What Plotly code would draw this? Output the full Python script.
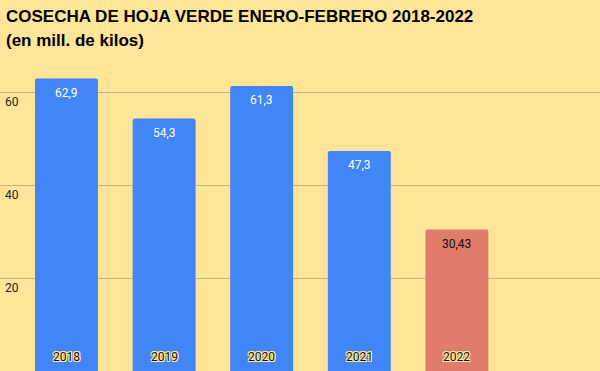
import plotly.graph_objects as go

years = ["2018", "2019", "2020", "2021", "2022"]
values = [62.9, 54.3, 61.3, 47.3, 30.43]
value_labels = ["62,9", "54,3", "61,3", "47,3", "30,43"]
bar_colors = ["#4285F4", "#4285F4", "#4285F4", "#4285F4", "#DF7C6B"]
label_colors = ["#FFFFFF", "#FFFFFF", "#FFFFFF", "#FFFFFF", "#111111"]
tick_vals = [20, 40, 60]
tick_text = ["20", "40", "60"]
title_lines = ["COSECHA DE HOJA VERDE ENERO-FEBRERO 2018-2022", "(en mill. de kilos)"]

BG = "#FFE599"
LABEL_FONT = "Roboto, Arial, sans-serif"
TITLE_FONT = "Liberation Sans, Arial, sans-serif"

fig = go.Figure()
fig.add_trace(go.Bar(
    x=list(range(len(years))),
    y=values,
    marker=dict(color=bar_colors, line=dict(width=0), cornerradius=2),
    hoverinfo="skip",
))

halo = ", ".join(f"{dx}px {dy}px 0 {BG}" for dx, dy in
                 [(1, 0), (-1, 0), (0, 1), (0, -1), (1, 1), (-1, -1), (1, -1), (-1, 1)])

annotations = []
for i, (v, lab, col) in enumerate(zip(values, value_labels, label_colors)):
    annotations.append(dict(
        x=i, y=v, xref="x", yref="y", text=lab, showarrow=False,
        yanchor="top", yshift=-5,
        font=dict(family=LABEL_FONT, size=12, color=col),
    ))
for i, yr in enumerate(years):
    annotations.append(dict(
        x=i, y=0, xref="x", yref="y", text=yr, showarrow=False,
        yanchor="bottom", yshift=5,
        font=dict(family=LABEL_FONT, size=12, color="#111111", shadow=halo),
    ))
for line, shift in zip(title_lines, [24, 0]):
    annotations.append(dict(
        x=0.006, y=1, xref="paper", yref="paper", text=line, showarrow=False,
        xanchor="left", yanchor="middle", yshift=shift,
        font=dict(family=TITLE_FONT, size=17, color="#000000", weight="bold"),
    ))

fig.update_layout(
    width=600, height=371,
    paper_bgcolor=BG, plot_bgcolor=BG,
    margin=dict(l=0, r=0, t=40, b=0),
    bargap=0.355,
    showlegend=False,
    xaxis=dict(
        range=[-0.681, 5.466], showgrid=False, zeroline=False,
        showticklabels=False, ticks="", fixedrange=True,
    ),
    yaxis=dict(
        range=[0, 71.2], tickvals=tick_vals, ticktext=tick_text,
        showgrid=True, gridcolor="#C9B47E", gridwidth=1,
        zeroline=False, ticks="", ticklabelposition="inside bottom",
        tickfont=dict(family=LABEL_FONT, size=12, color="#222222"),
        ticklabelstandoff=2, ticklabelshift=1,
        fixedrange=True,
    ),
    annotations=annotations,
)

fig.write_html("out.html", config={"displayModeBar": False},
               post_script="document.body.style.margin='0';")
